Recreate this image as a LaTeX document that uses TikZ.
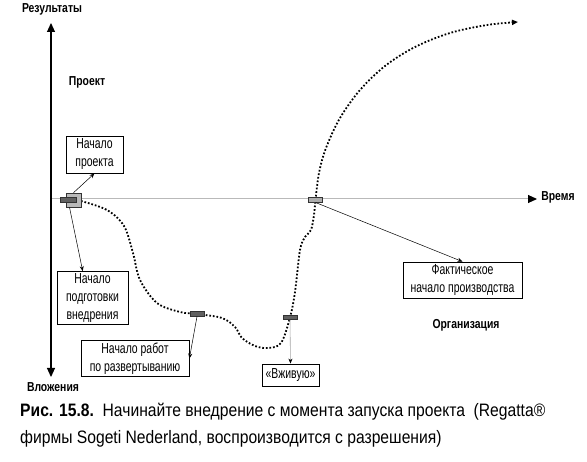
\documentclass[tikz,border=0pt]{standalone}
\usepackage{fontspec}
\setmainfont{Liberation Sans}[FakeStretch=0.72]
\newfontfamily\labfont{Liberation Sans}[FakeStretch=0.8]
\newfontfamily\capfont{Liberation Sans}[FakeStretch=0.87]
\usetikzlibrary{arrows.meta,calc}

\begin{document}
\begin{tikzpicture}[
        x=1pt, y=-1pt,
        axis/.style={line width=1.1pt, -{Triangle[length=9pt,width=8pt]}},
        time axis/.style={line width=1pt, gray!55, -{Triangle[length=9pt,width=8pt,color=black]}},
        conn/.style={line width=0.5pt, -{Stealth[length=5pt,width=4pt]}},
        live conn/.style={line width=0.6pt, gray!70, -{Stealth[length=5pt,width=4pt,color=black]}},
        curve/.style={line width=1.8pt, dash pattern=on 1.7pt off 1.9pt},
        infobox/.style={draw, line width=0.8pt, align=center, inner sep=2pt, font=\fontsize{14.5}{18}\selectfont},
        marker/.style={draw=black!80, line width=0.5pt, fill=gray!75!black, minimum width=14pt, minimum height=4.5pt, inner sep=0pt},
        axislabel/.style={font=\labfont\bfseries\fontsize{13}{15}\selectfont, inner sep=0pt}
    ]
    \useasboundingbox (0,0) rectangle (587,462);
    % axes
    \coordinate (origin) at (51,199);
    \draw[time axis] (origin) -- (537,199);
    \draw[axis] (origin) -- (51,23);
    \draw[axis] (origin) -- (51,377);
    \node[axislabel] (res) at (52,9) {Результаты};
    \node[axislabel] (inv) at (53,387) {Вложения};
    \node[axislabel] (time) at (558,197) {Время};
    \node[axislabel] (projlab) at (87,82) {Проект};
    \node[axislabel] (orglab) at (466,325) {Организация};
    % the course of the implementation
    \coordinate (p0) at (73.5,200);
    \coordinate (p2) at (197,314);
    \coordinate (p3) at (290,317.5);
    \coordinate (p4) at (315.5,200);
    \coordinate (goal) at (518,22);
    \draw[curve, -{Triangle[length=6pt,width=5pt]}] plot[smooth, tension=0.55] coordinates {
        ($(p0)+(7.5,1)$) (107,210) (124,226) (133,253) (140,280) (157,303) (180,312)
        (p2) (222,318) (235,327) (242,338) (255,346) (268,348) (281,343)
        (p3) (295,292) (300,250) (305,237) (311,230) (314,215)
        (p4) (319,173) (326,148) (340,118) (360,90) (385,66) (415,47) (450,33) (487,25) (goal)};
    % markers
    \node[fill=gray!55, draw=black!80, line width=0.6pt, minimum width=15pt, minimum height=14pt, inner sep=0pt] (m0big) at (p0) {};
    \node[marker, minimum width=16pt] (m0) at (68,200) {};
    \node[marker] (m2) at (p2) {};
    \node[marker] (m3) at (p3) {};
    \node[marker, fill=gray!65] (m4) at (p4) {};
    % boxes
    \node[infobox, minimum width=57pt, minimum height=37pt] (startbox) at (94.5,154.5) {Начало\\проекта};
    \node[infobox, minimum width=71pt, minimum height=52pt] (prepbox) at (92.5,298) {Начало\\подготовки\\внедрения};
    \node[infobox, minimum width=108pt, minimum height=33pt] (deploybox) at (135,358.5) {Начало работ\\по развертыванию};
    \node[infobox, minimum width=57pt, minimum height=22pt] (livebox) at (290.5,375) {«Вживую»};
    \node[infobox, minimum width=119pt, minimum height=36pt] (prodbox) at (462.5,280) {Фактическое\\начало производства};
    % connectors
    \draw[conn] (m0big.north) -- (startbox.south);
    \draw[conn] ($(m0big.south)+(-4,0)$) -- (prepbox.110);
    \draw[conn] (m2.south) -- (deploybox.east);
    \draw[live conn] (m3.south) -- (livebox.north);
    \draw[conn] (m4.south) -- (prodbox.north);
    % caption
    \node[anchor=base west, inner sep=0pt, font=\capfont\fontsize{18}{20}\selectfont] (cap1) at (20,417)
        {\textbf{Рис. 15.8.}\ \ Начинайте внедрение с момента запуска проекта\ \ (Regatta®};
    \node[anchor=base west, inner sep=0pt, font=\capfont\fontsize{18}{20}\selectfont] (cap2) at (20,444)
        {фирмы Sogeti Nederland, воспроизводится с разрешения)};
\end{tikzpicture}
\end{document}
